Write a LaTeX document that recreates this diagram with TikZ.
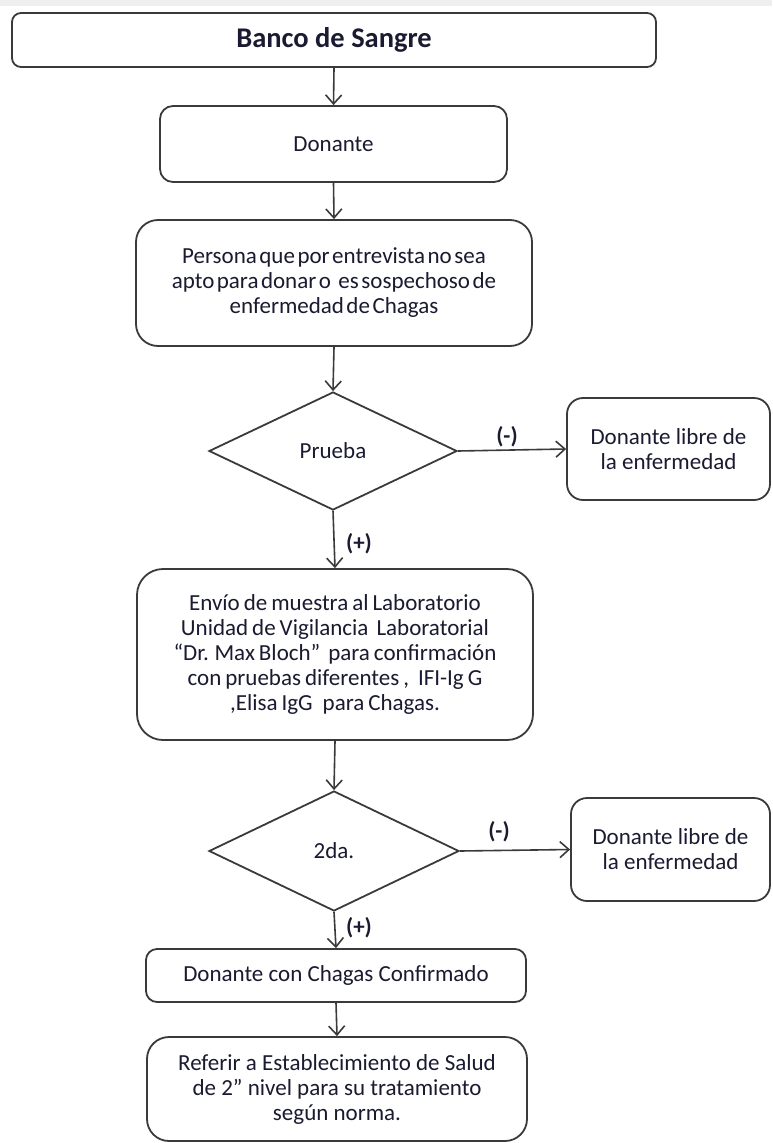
\documentclass[tikz,border=0pt]{standalone}
\usepackage{fontspec}
\setmainfont{Carlito}
\usetikzlibrary{shapes.geometric,arrows.meta}
\definecolor{txt}{HTML}{1A1A30}
\definecolor{ln}{HTML}{3A3A3A}
\definecolor{band}{HTML}{EFEFEF}
\newcommand\tightsp[1]{\spaceskip=#1 plus 1pt minus 1pt\relax}
\tikzset{
  box/.style={draw=ln, line width=1.8pt, fill=white, align=center, text=txt, inner sep=0pt,
    font=\fontsize{23}{25}\selectfont},
  dec/.style={draw=ln, line width=1.8pt, shape=diamond, inner sep=0pt, text=txt,
    font=\fontsize{23}{25}\selectfont},
  arr/.style={draw=ln, line width=1.6pt, -{Straight Barb[length=9pt,width=16pt,line width=1.6pt]}},
  lbl/.style={text=txt, font=\fontsize{23}{25}\selectfont\bfseries}
}
\begin{document}
\begin{tikzpicture}[x=1pt,y=-1pt]
\useasboundingbox (0,0) rectangle (772,1143);
\fill[band] (0,0) rectangle (772,6);

\node[box, rounded corners=9pt, minimum width=644pt, minimum height=54pt,
  font=\fontsize{28.5}{30}\selectfont\bfseries] (banco) at (334,40) {Banco de Sangre};
\node[box, rounded corners=13pt, minimum width=347pt, minimum height=76pt] (donante) at (333.5,144) {Donante};
\node[box, rounded corners=22pt, minimum width=396pt, minimum height=126pt,
  font=\fontsize{23}{25}\selectfont\tightsp{2.5pt}] (persona) at (334,283)
  {Persona que por entrevista no sea\\apto para donar o\hspace{5pt} es sospechoso de\\enfermedad de Chagas};
\node[dec, minimum width=248pt, minimum height=118pt] (prueba) at (333,451) {Prueba};
\node[box, rounded corners=16pt, minimum width=203pt, minimum height=102pt] (libre1) at (668.5,449)
  {Donante libre de\\la enfermedad};
\node[box, rounded corners=26pt, minimum width=396pt, minimum height=171pt,
  font=\fontsize{23}{25}\selectfont\tightsp{4pt}] (envio) at (335,654.5)
  {Envío de muestra al Laboratorio\\Unidad de Vigilancia\hspace{4pt} Laboratorial\\“Dr. Max Bloch”\hspace{4pt} para confirmación\\con pruebas diferentes ,\hspace{5pt} IFI-Ig G\\,Elisa IgG\hspace{6pt} para Chagas.};
\node[dec, minimum width=250pt, minimum height=120pt] (seg) at (334,851) {2da.};
\node[box, rounded corners=16pt, minimum width=199pt, minimum height=103pt] (libre2) at (670.5,849.5)
  {Donante libre de\\la enfermedad};
\node[box, rounded corners=11pt, minimum width=380pt, minimum height=53pt] (chagas) at (336,975.5)
  {Donante con Chagas Confirmado};
\node[box, rounded corners=22pt, minimum width=380pt, minimum height=104pt] (referir) at (337,1089)
  {Referir a Establecimiento de Salud\\de 2" nivel para su tratamiento\\según norma.};

\draw[arr] (banco.south) -- (donante.north);
\draw[arr] (donante.south) -- (persona.north);
\draw[arr] (persona.south) -- (prueba.north);
\draw[arr] (prueba.east) -- (libre1.west);
\draw[arr] (prueba.south) -- (envio.north);
\draw[arr] (envio.south) -- (seg.north);
\draw[arr] (seg.east) -- (libre2.west);
\draw[arr] (seg.south) -- (chagas.north);
\draw[arr] (chagas.south) -- (referir.north);

\node[lbl] (m1) at (507,437) {(-)};
\node[lbl] (p1) at (359,544) {(+)};
\node[lbl] (m2) at (499,832) {(-)};
\node[lbl] (p2) at (359,928) {(+)};
\end{tikzpicture}
\end{document}
